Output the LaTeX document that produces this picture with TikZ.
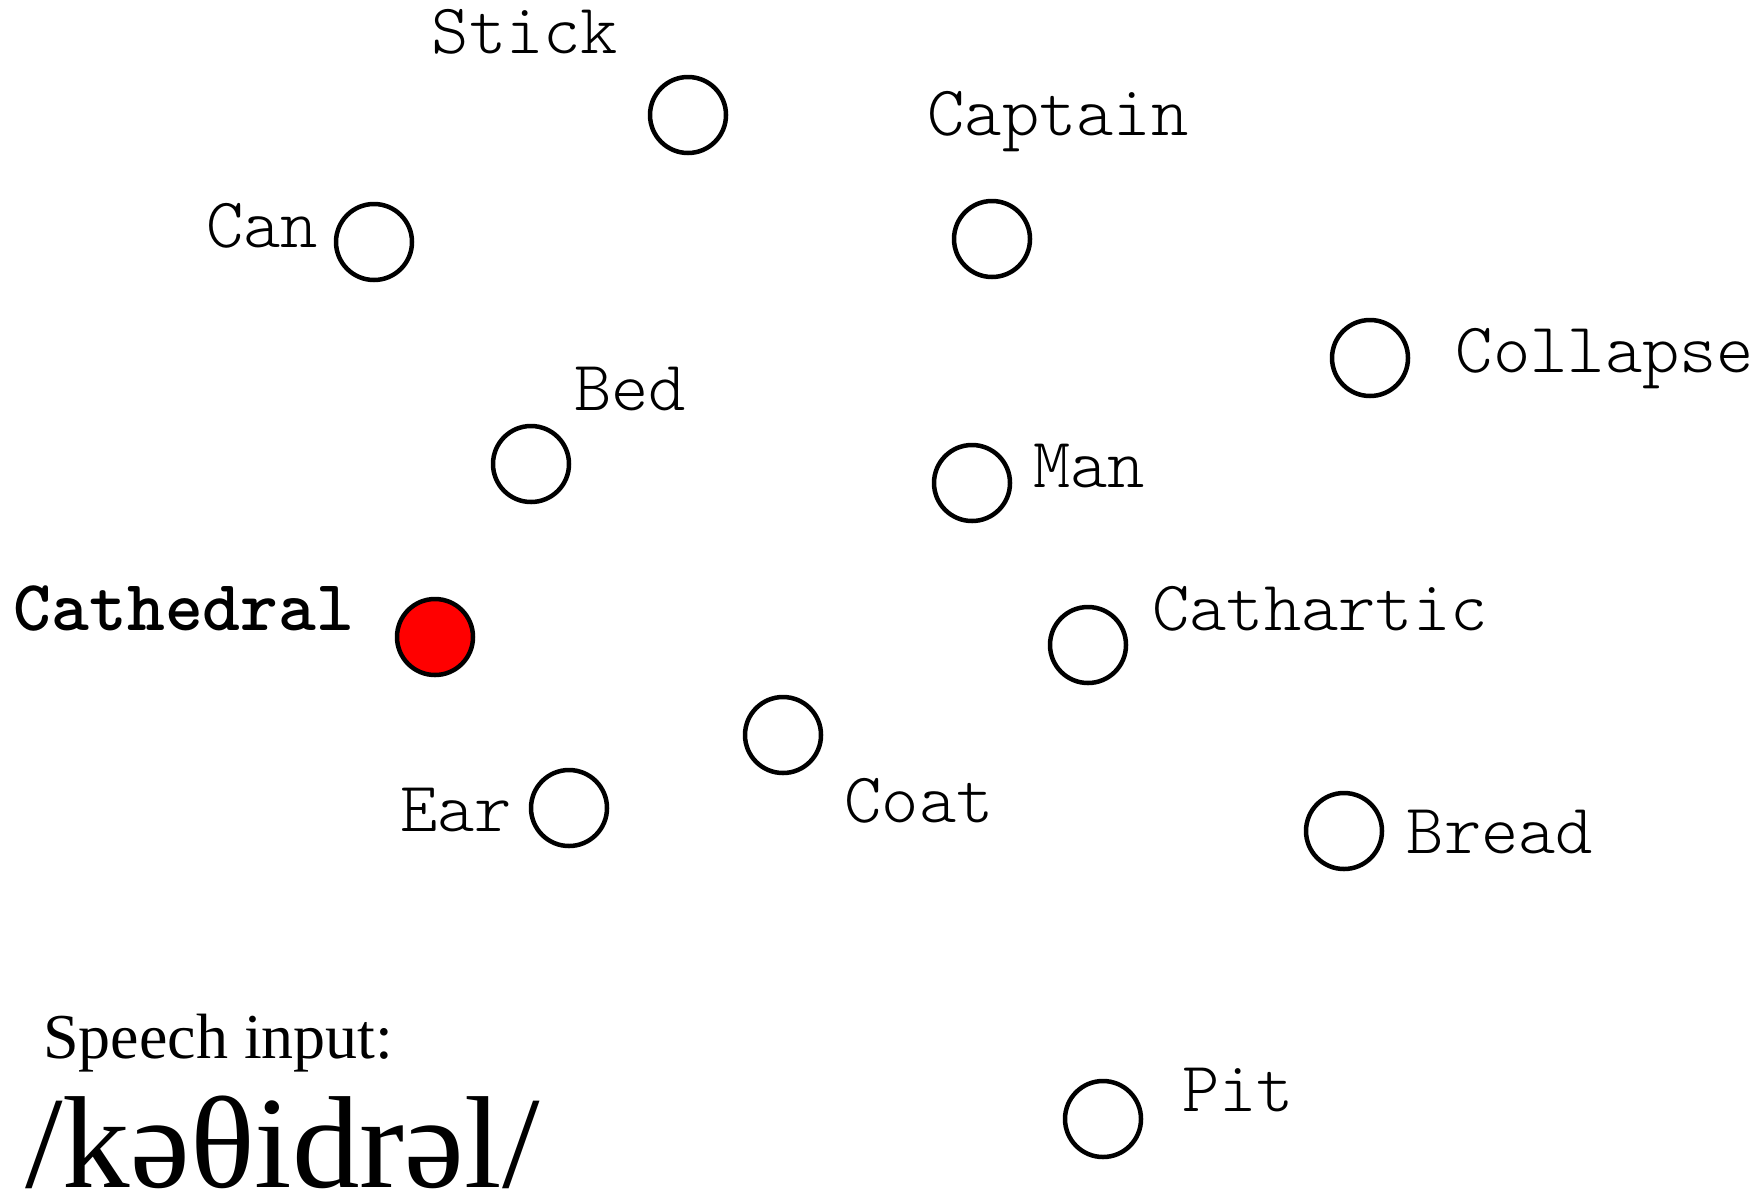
\documentclass[tikz,border=0pt]{standalone}
\usepackage{fontspec}
\newfontfamily\monofnt{Latin Modern Mono Light}
\newfontfamily\seriffnt{Liberation Serif}
\begin{document}
\begin{tikzpicture}[x=1pt,y=-1pt,
  unit/.style={circle, draw=black, line width=4.5pt, minimum size=76pt, inner sep=0pt, fill=white},
  target/.style={unit, fill=red},
  lbl/.style={font=\monofnt\fontsize{71}{71}\selectfont, anchor=base, inner sep=0pt},
  boldlbl/.style={font=\monofnt\bfseries\fontsize{72}{72}\selectfont, anchor=base, inner sep=0pt},
  speech/.style={font=\seriffnt\fontsize{64}{64}\selectfont, anchor=base west, inner sep=0pt},
  ipa/.style={font=\seriffnt\fontsize{131}{131}\selectfont, anchor=base west, inner sep=0pt}]
\useasboundingbox (0,0) rectangle (1760,1197);
% units
\node[unit] (stick) at (688,115) {};
\node[unit] (captain) at (992,239) {};
\node[unit] (can) at (374,242) {};
\node[unit] (collapse) at (1370,358) {};
\node[unit] (bed) at (531,464) {};
\node[unit] (man) at (972,483) {};
\node[target] (cathedral) at (435,637) {};
\node[unit] (cathartic) at (1088,645) {};
\node[unit] (coat) at (783,735) {};
\node[unit] (ear) at (569,808) {};
\node[unit] (bread) at (1344,831) {};
\node[unit] (pit) at (1103,1119) {};
% labels
\node[lbl] (lstick) at (525,53) {Stick};
\node[lbl] (lcaptain) at (1058,135) {Captain};
\node[lbl] (lcan) at (262,247) {Can};
\node[lbl] (lcollapse) at (1605,372) {Collapse};
\node[lbl] (lbed) at (630,410) {Bed};
\node[lbl] (lman) at (1089,487) {Man};
\node[boldlbl] (lcathedral) at (184,630) {Cathedral};
\node[lbl] (lcathartic) at (1320,630) {Cathartic};
\node[lbl] (lcoat) at (919,822) {Coat};
\node[lbl] (lear) at (456,831) {Ear};
\node[lbl] (lbread) at (1500,853) {Bread};
\node[lbl] (lpit) at (1238,1111) {Pit};
% speech input
\node[speech] (sp) at (43,1058) {Speech input:};
\node[ipa] (ipa) at (25,1187) {\scalebox{1.03}[1]{/kəθidrəl/}};
\end{tikzpicture}
\end{document}
